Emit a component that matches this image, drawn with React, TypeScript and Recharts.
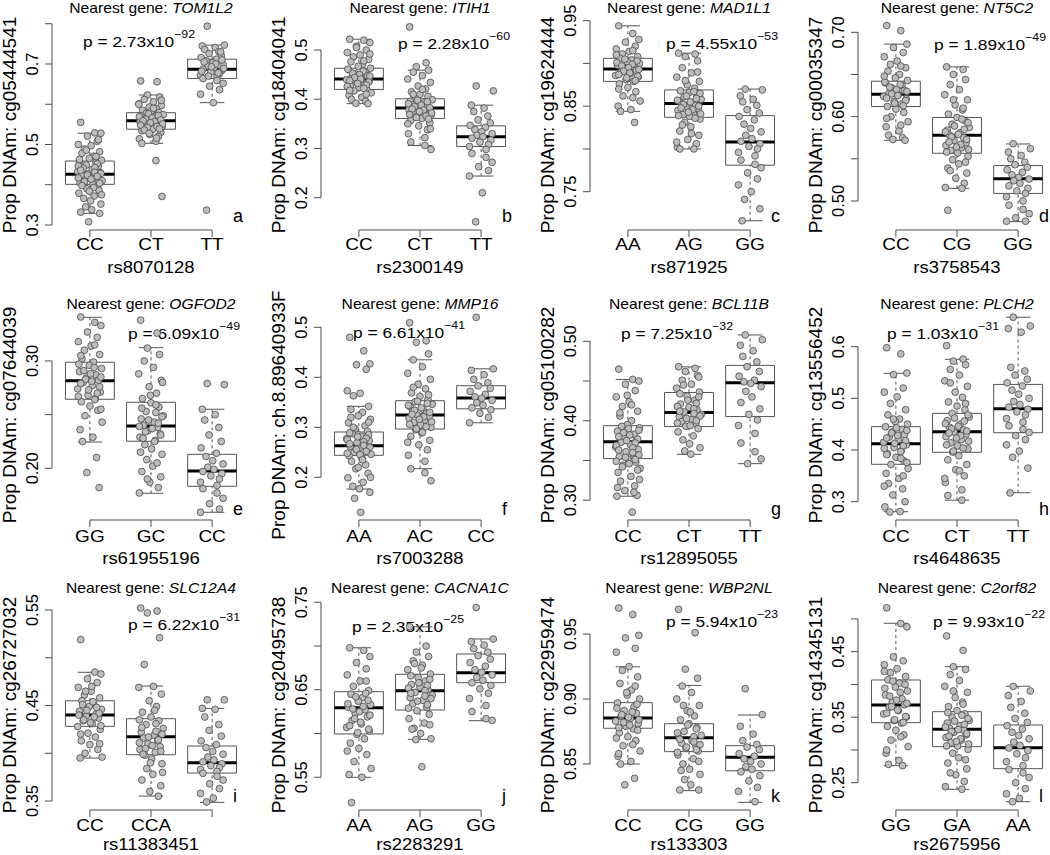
/**
 * Twelve mQTL boxplot panels (3 rows x 4 columns), R-style:
 * grey jittered points over a boxplot per genotype, thick black median,
 * dashed whiskers with short caps, a bracket x axis and a y axis that only
 * spans the first to the last tick.
 */
import React from "react";
import { ComposedChart, Scatter, XAxis, YAxis, ReferenceArea, ReferenceLine } from "recharts";

// ---------- data: box stats are [lower whisker, q1, median, q3, upper whisker] ----------

const TOM1L2_GENOTYPES = ["CC", "CT", "TT"];
const TOM1L2_BOXES = [
  [0.329, 0.401, 0.426, 0.459, 0.528],
  [0.503, 0.538, 0.559, 0.579, 0.623],
  [0.604, 0.664, 0.687, 0.712, 0.747],
];
const TOM1L2_POINTS = [
  [0.555, 0.529, 0.528, 0.521, 0.508, 0.5, 0.497, 0.489, 0.482, 0.478, 0.471, 0.466, 0.461, 0.458, 0.455, 0.449, 0.446, 0.441, 0.438, 0.433, 0.43, 0.427, 0.425, 0.423, 0.419, 0.416, 0.412, 0.41, 0.405, 0.402, 0.399, 0.395, 0.39, 0.386, 0.379, 0.372, 0.366, 0.36, 0.352, 0.345, 0.338, 0.332, 0.329, 0.308,
    0.452, 0.447, 0.443, 0.436, 0.431, 0.428, 0.424, 0.421, 0.417, 0.414, 0.408, 0.404, 0.398, 0.393, 0.384, 0.375, 0.463, 0.47, 0.486, 0.512],
  [0.658, 0.656, 0.623, 0.618, 0.612, 0.606, 0.601, 0.597, 0.593, 0.589, 0.585, 0.582, 0.579, 0.577, 0.574, 0.571, 0.568, 0.565, 0.562, 0.56, 0.558, 0.556, 0.553, 0.55, 0.547, 0.544, 0.541, 0.538, 0.534, 0.53, 0.525, 0.52, 0.514, 0.508, 0.503, 0.46, 0.371,
    0.576, 0.572, 0.569, 0.566, 0.563, 0.561, 0.559, 0.557, 0.554, 0.551, 0.548, 0.545, 0.542, 0.539, 0.536, 0.59, 0.6, 0.61, 0.528, 0.516],
  [0.794, 0.747, 0.745, 0.741, 0.736, 0.731, 0.726, 0.721, 0.716, 0.712, 0.708, 0.703, 0.699, 0.695, 0.69, 0.687, 0.684, 0.68, 0.676, 0.672, 0.668, 0.664, 0.659, 0.652, 0.645, 0.636, 0.625, 0.604, 0.337,
    0.71, 0.705, 0.7, 0.693, 0.689, 0.682, 0.678, 0.67, 0.73],
];

const ITIH1_GENOTYPES = ["CC", "CT", "TT"];
const ITIH1_BOXES = [
  [0.391, 0.42, 0.441, 0.463, 0.522],
  [0.306, 0.361, 0.382, 0.401, 0.459],
  [0.244, 0.304, 0.324, 0.346, 0.388],
];
const ITIH1_POINTS = [
  [0.522, 0.52, 0.515, 0.508, 0.5, 0.495, 0.49, 0.486, 0.481, 0.476, 0.471, 0.467, 0.463, 0.46, 0.456, 0.452, 0.448, 0.445, 0.442, 0.44, 0.437, 0.434, 0.43, 0.427, 0.424, 0.42, 0.417, 0.413, 0.408, 0.404, 0.4, 0.396, 0.392, 0.391,
    0.461, 0.457, 0.453, 0.45, 0.447, 0.444, 0.441, 0.438, 0.435, 0.432, 0.429, 0.426, 0.422, 0.418, 0.478, 0.492, 0.505, 0.41],
  [0.547, 0.474, 0.466, 0.459, 0.455, 0.448, 0.441, 0.434, 0.427, 0.421, 0.415, 0.41, 0.406, 0.402, 0.399, 0.396, 0.392, 0.389, 0.386, 0.384, 0.382, 0.379, 0.376, 0.373, 0.37, 0.367, 0.364, 0.361, 0.357, 0.352, 0.346, 0.338, 0.33, 0.322, 0.313, 0.306, 0.298,
    0.398, 0.395, 0.391, 0.388, 0.385, 0.383, 0.38, 0.378, 0.375, 0.372, 0.369, 0.366, 0.363, 0.36, 0.41, 0.42, 0.35, 0.34],
  [0.427, 0.417, 0.388, 0.382, 0.375, 0.366, 0.358, 0.352, 0.347, 0.343, 0.338, 0.334, 0.33, 0.327, 0.324, 0.321, 0.317, 0.313, 0.308, 0.304, 0.298, 0.29, 0.282, 0.272, 0.263, 0.255, 0.244, 0.21, 0.151],
];

const MAD1L1_GENOTYPES = ["AA", "AG", "GG"];
const MAD1L1_BOXES = [
  [0.844, 0.879, 0.8935, 0.906, 0.944],
  [0.8, 0.837, 0.853, 0.869, 0.912],
  [0.716, 0.781, 0.808, 0.839, 0.87],
];
const MAD1L1_POINTS = [
  [0.944, 0.935, 0.928, 0.925, 0.92, 0.917, 0.914, 0.911, 0.908, 0.906, 0.904, 0.902, 0.9, 0.898, 0.896, 0.894, 0.892, 0.89, 0.888, 0.886, 0.884, 0.881, 0.879, 0.876, 0.872, 0.867, 0.862, 0.856, 0.85, 0.846, 0.844, 0.831,
    0.905, 0.903, 0.901, 0.899, 0.897, 0.895, 0.893, 0.891, 0.889, 0.887, 0.885, 0.883, 0.88, 0.91, 0.915, 0.87, 0.86],
  [0.912, 0.911, 0.908, 0.903, 0.895, 0.889, 0.884, 0.879, 0.875, 0.871, 0.868, 0.866, 0.863, 0.861, 0.858, 0.856, 0.854, 0.853, 0.851, 0.849, 0.847, 0.845, 0.842, 0.84, 0.838, 0.835, 0.831, 0.826, 0.821, 0.816, 0.811, 0.806, 0.802, 0.8, 0.8,
    0.867, 0.865, 0.862, 0.859, 0.857, 0.855, 0.852, 0.85, 0.848, 0.846, 0.843, 0.841, 0.839, 0.836, 0.88, 0.89, 0.828, 0.818, 0.808],
  [0.87, 0.869, 0.862, 0.858, 0.855, 0.851, 0.846, 0.842, 0.838, 0.834, 0.829, 0.824, 0.82, 0.816, 0.812, 0.809, 0.806, 0.803, 0.8, 0.796, 0.792, 0.787, 0.782, 0.778, 0.772, 0.765, 0.758, 0.75, 0.741, 0.73, 0.716],
];

const NT5C2_GENOTYPES = ["CC", "CG", "GG"];
const NT5C2_BOXES = [
  [0.572, 0.612, 0.6265, 0.642, 0.686],
  [0.515, 0.5566, 0.578, 0.599, 0.659],
  [0.4755, 0.509, 0.5264, 0.542, 0.5676],
];
const NT5C2_POINTS = [
  [0.708, 0.702, 0.686, 0.682, 0.676, 0.671, 0.666, 0.662, 0.658, 0.654, 0.65, 0.646, 0.643, 0.64, 0.637, 0.634, 0.631, 0.628, 0.626, 0.624, 0.621, 0.618, 0.615, 0.612, 0.609, 0.605, 0.6, 0.594, 0.588, 0.583, 0.578, 0.575, 0.573, 0.572,
    0.641, 0.638, 0.635, 0.632, 0.63, 0.627, 0.625, 0.622, 0.619, 0.616, 0.613, 0.648, 0.66, 0.598, 0.59],
  [0.659, 0.656, 0.65, 0.644, 0.638, 0.632, 0.626, 0.62, 0.614, 0.608, 0.603, 0.599, 0.595, 0.591, 0.587, 0.584, 0.581, 0.578, 0.575, 0.572, 0.569, 0.566, 0.563, 0.56, 0.557, 0.553, 0.549, 0.544, 0.539, 0.533, 0.527, 0.521, 0.516, 0.515, 0.489,
    0.597, 0.593, 0.589, 0.585, 0.582, 0.579, 0.576, 0.573, 0.57, 0.567, 0.564, 0.561, 0.558, 0.61, 0.62, 0.546, 0.536],
  [0.568, 0.562, 0.558, 0.554, 0.55, 0.546, 0.543, 0.54, 0.537, 0.534, 0.531, 0.528, 0.526, 0.524, 0.521, 0.518, 0.515, 0.512, 0.509, 0.505, 0.5, 0.495, 0.49, 0.485, 0.48, 0.476, 0.476],
];

const OGFOD2_GENOTYPES = ["GG", "GC", "CC"];
const OGFOD2_BOXES = [
  [0.2245, 0.2643, 0.2816, 0.2988, 0.3407],
  [0.1767, 0.2252, 0.2394, 0.2615, 0.3124],
  [0.159, 0.1832, 0.1975, 0.213, 0.255],
];
const OGFOD2_POINTS = [
  [0.341, 0.336, 0.333, 0.327, 0.322, 0.318, 0.314, 0.31, 0.306, 0.302, 0.299, 0.296, 0.293, 0.29, 0.287, 0.284, 0.282, 0.28, 0.277, 0.274, 0.271, 0.268, 0.265, 0.262, 0.258, 0.254, 0.249, 0.243, 0.236, 0.229, 0.225, 0.21, 0.196, 0.182,
    0.297, 0.294, 0.291, 0.288, 0.285, 0.283, 0.281, 0.279, 0.276, 0.273, 0.27, 0.267, 0.264, 0.305, 0.315, 0.255],
  [0.338, 0.326, 0.312, 0.306, 0.3, 0.294, 0.288, 0.282, 0.276, 0.27, 0.265, 0.261, 0.257, 0.253, 0.249, 0.246, 0.243, 0.24, 0.238, 0.235, 0.232, 0.229, 0.226, 0.222, 0.218, 0.213, 0.208, 0.202, 0.197, 0.192, 0.187, 0.182, 0.177,
    0.259, 0.256, 0.252, 0.248, 0.245, 0.242, 0.239, 0.237, 0.234, 0.231, 0.228, 0.225, 0.268, 0.28, 0.215, 0.205, 0.19],
  [0.279, 0.278, 0.255, 0.25, 0.245, 0.238, 0.231, 0.225, 0.219, 0.214, 0.211, 0.207, 0.204, 0.201, 0.199, 0.197, 0.195, 0.193, 0.19, 0.187, 0.184, 0.181, 0.177, 0.172, 0.167, 0.162, 0.159],
];

const MMP16_GENOTYPES = ["AA", "AC", "CC"];
const MMP16_BOXES = [
  [0.1766, 0.244, 0.2632, 0.2906, 0.342],
  [0.2172, 0.2966, 0.3246, 0.3532, 0.435],
  [0.309, 0.337, 0.3586, 0.3832, 0.417],
];
const MMP16_POINTS = [
  [0.48, 0.453, 0.427, 0.425, 0.416, 0.373, 0.368, 0.363, 0.342, 0.336, 0.33, 0.323, 0.316, 0.309, 0.303, 0.297, 0.292, 0.287, 0.282, 0.277, 0.273, 0.269, 0.265, 0.262, 0.258, 0.254, 0.25, 0.246, 0.243, 0.238, 0.232, 0.225, 0.217, 0.208, 0.199, 0.19, 0.182, 0.177, 0.17, 0.158, 0.13,
    0.289, 0.285, 0.281, 0.278, 0.275, 0.271, 0.267, 0.264, 0.26, 0.256, 0.252, 0.248, 0.245, 0.3, 0.31, 0.32, 0.235, 0.22, 0.2],
  [0.509, 0.473, 0.47, 0.447, 0.435, 0.421, 0.408, 0.396, 0.386, 0.377, 0.369, 0.362, 0.356, 0.351, 0.346, 0.341, 0.336, 0.332, 0.328, 0.325, 0.322, 0.318, 0.314, 0.31, 0.305, 0.3, 0.295, 0.289, 0.282, 0.274, 0.265, 0.255, 0.244, 0.232, 0.217, 0.209, 0.193,
    0.352, 0.348, 0.344, 0.339, 0.334, 0.33, 0.326, 0.321, 0.316, 0.311, 0.306, 0.301, 0.297, 0.365, 0.38, 0.29, 0.27],
  [0.52, 0.417, 0.414, 0.405, 0.396, 0.389, 0.383, 0.378, 0.372, 0.366, 0.361, 0.358, 0.354, 0.349, 0.344, 0.339, 0.335, 0.328, 0.32, 0.309],
];

const BCL11B_GENOTYPES = ["CC", "CT", "TT"];
const BCL11B_BOXES = [
  [0.305, 0.3524, 0.3736, 0.3938, 0.452],
  [0.3578, 0.3927, 0.4103, 0.4356, 0.4678],
  [0.346, 0.4053, 0.4478, 0.4697, 0.508],
];
const BCL11B_POINTS = [
  [0.465, 0.452, 0.45, 0.446, 0.438, 0.43, 0.424, 0.418, 0.412, 0.406, 0.4, 0.395, 0.391, 0.387, 0.383, 0.379, 0.376, 0.373, 0.37, 0.367, 0.364, 0.361, 0.358, 0.355, 0.352, 0.348, 0.344, 0.34, 0.335, 0.33, 0.324, 0.318, 0.312, 0.306, 0.305, 0.285,
    0.393, 0.39, 0.388, 0.385, 0.382, 0.38, 0.377, 0.375, 0.372, 0.369, 0.366, 0.363, 0.36, 0.357, 0.354, 0.351, 0.349, 0.346, 0.342, 0.338, 0.41, 0.42, 0.432, 0.326, 0.316, 0.31],
  [0.468, 0.466, 0.462, 0.457, 0.451, 0.446, 0.441, 0.436, 0.431, 0.426, 0.421, 0.417, 0.414, 0.411, 0.408, 0.405, 0.402, 0.399, 0.396, 0.393, 0.39, 0.386, 0.381, 0.376, 0.371, 0.366, 0.362, 0.358,
    0.434, 0.43, 0.426, 0.422, 0.418, 0.415, 0.412, 0.409, 0.406, 0.403, 0.4, 0.397, 0.394, 0.445, 0.455],
  [0.508, 0.502, 0.495, 0.488, 0.481, 0.474, 0.468, 0.462, 0.456, 0.451, 0.449, 0.447, 0.443, 0.437, 0.43, 0.423, 0.415, 0.408, 0.401, 0.394, 0.384, 0.372, 0.361, 0.352, 0.346],
];

const PLCH2_GENOTYPES = ["CC", "CT", "TT"];
const PLCH2_BOXES = [
  [0.2806, 0.3724, 0.4123, 0.4452, 0.5485],
  [0.303, 0.3956, 0.4355, 0.471, 0.5756],
  [0.3174, 0.4335, 0.48, 0.527, 0.657],
];
const PLCH2_POINTS = [
  [0.598, 0.586, 0.549, 0.546, 0.52, 0.512, 0.503, 0.49, 0.478, 0.468, 0.46, 0.455, 0.45, 0.445, 0.44, 0.435, 0.43, 0.425, 0.42, 0.415, 0.41, 0.405, 0.399, 0.393, 0.386, 0.379, 0.372, 0.364, 0.355, 0.345, 0.335, 0.325, 0.313, 0.3, 0.29, 0.281, 0.28,
    0.443, 0.438, 0.433, 0.428, 0.423, 0.418, 0.413, 0.408, 0.403, 0.397, 0.391, 0.384, 0.376, 0.46, 0.35, 0.33],
  [0.602, 0.576, 0.572, 0.565, 0.556, 0.545, 0.534, 0.523, 0.512, 0.502, 0.493, 0.485, 0.478, 0.471, 0.464, 0.457, 0.45, 0.444, 0.439, 0.435, 0.431, 0.426, 0.42, 0.414, 0.408, 0.402, 0.396, 0.389, 0.381, 0.372, 0.362, 0.35, 0.337, 0.323, 0.312, 0.303,
    0.468, 0.462, 0.456, 0.451, 0.446, 0.441, 0.437, 0.433, 0.428, 0.423, 0.417, 0.41, 0.404, 0.398, 0.49, 0.53, 0.36, 0.345],
  [0.657, 0.64, 0.635, 0.628, 0.56, 0.553, 0.545, 0.537, 0.53, 0.524, 0.516, 0.508, 0.5, 0.494, 0.488, 0.483, 0.479, 0.474, 0.468, 0.461, 0.454, 0.447, 0.44, 0.434, 0.428, 0.42, 0.41, 0.398, 0.386, 0.365, 0.317],
];

// third label is dropped in the original (overlap)
const SLC12A4_GENOTYPES = ["CC", "CCA", ""];
const SLC12A4_BOXES = [
  [0.395, 0.4282, 0.44, 0.455, 0.4848],
  [0.3552, 0.3985, 0.4173, 0.4362, 0.4704],
  [0.3486, 0.3793, 0.3901, 0.4076, 0.447],
];
const SLC12A4_POINTS = [
  [0.519, 0.485, 0.483, 0.478, 0.474, 0.469, 0.465, 0.461, 0.458, 0.455, 0.452, 0.449, 0.446, 0.444, 0.441, 0.439, 0.437, 0.434, 0.431, 0.428, 0.425, 0.421, 0.417, 0.413, 0.409, 0.404, 0.4, 0.396, 0.395,
    0.454, 0.451, 0.448, 0.445, 0.442, 0.44, 0.438, 0.435, 0.432, 0.429, 0.465, 0.47, 0.42, 0.41],
  [0.552, 0.549, 0.547, 0.521, 0.493, 0.47, 0.469, 0.462, 0.455, 0.449, 0.443, 0.438, 0.434, 0.43, 0.426, 0.422, 0.419, 0.416, 0.413, 0.41, 0.407, 0.404, 0.401, 0.398, 0.394, 0.389, 0.384, 0.378, 0.372, 0.366, 0.36, 0.355,
    0.435, 0.431, 0.427, 0.423, 0.42, 0.417, 0.414, 0.411, 0.408, 0.405, 0.402, 0.399, 0.445, 0.39, 0.38],
  [0.456, 0.456, 0.447, 0.446, 0.438, 0.43, 0.424, 0.418, 0.413, 0.409, 0.406, 0.402, 0.399, 0.396, 0.393, 0.391, 0.389, 0.387, 0.385, 0.383, 0.381, 0.379, 0.376, 0.372, 0.368, 0.363, 0.358, 0.353, 0.349],
];

const CACNA1C_GENOTYPES = ["AA", "AG", "GG"];
const CACNA1C_BOXES = [
  [0.55, 0.5995, 0.6296, 0.6478, 0.698],
  [0.5934, 0.6269, 0.649, 0.6677, 0.722],
  [0.6147, 0.6581, 0.6695, 0.6909, 0.708],
];
const CACNA1C_POINTS = [
  [0.698, 0.695, 0.688, 0.681, 0.674, 0.667, 0.66, 0.654, 0.649, 0.645, 0.641, 0.637, 0.633, 0.63, 0.627, 0.623, 0.619, 0.615, 0.611, 0.607, 0.603, 0.599, 0.594, 0.589, 0.583, 0.576, 0.568, 0.56, 0.553, 0.55, 0.521,
    0.646, 0.642, 0.638, 0.634, 0.631, 0.628, 0.625, 0.621, 0.617, 0.613, 0.609, 0.605, 0.601, 0.66, 0.58],
  [0.722, 0.7, 0.693, 0.688, 0.683, 0.678, 0.673, 0.668, 0.664, 0.66, 0.656, 0.653, 0.65, 0.647, 0.644, 0.641, 0.638, 0.634, 0.63, 0.626, 0.622, 0.617, 0.612, 0.606, 0.6, 0.594, 0.593, 0.562,
    0.666, 0.662, 0.658, 0.655, 0.652, 0.649, 0.646, 0.643, 0.64, 0.637, 0.633, 0.629, 0.675, 0.68, 0.61, 0.605],
  [0.744, 0.708, 0.705, 0.701, 0.697, 0.693, 0.689, 0.685, 0.681, 0.677, 0.673, 0.67, 0.667, 0.664, 0.661, 0.658, 0.655, 0.651, 0.646, 0.64, 0.632, 0.625, 0.617, 0.615],
];

const WBP2NL_GENOTYPES = ["CC", "CG", "GG"];
const WBP2NL_BOXES = [
  [0.85, 0.8775, 0.8854, 0.8972, 0.9248],
  [0.8295, 0.8595, 0.8702, 0.881, 0.9105],
  [0.8205, 0.8448, 0.8551, 0.8641, 0.8877],
];
const WBP2NL_POINTS = [
  [0.97, 0.965, 0.949, 0.947, 0.939, 0.936, 0.925, 0.922, 0.917, 0.912, 0.907, 0.903, 0.9, 0.897, 0.894, 0.891, 0.889, 0.887, 0.885, 0.883, 0.881, 0.879, 0.877, 0.874, 0.871, 0.868, 0.864, 0.86, 0.856, 0.852, 0.85, 0.839, 0.834,
    0.896, 0.893, 0.89, 0.888, 0.886, 0.884, 0.882, 0.88, 0.878, 0.876, 0.905, 0.91, 0.87, 0.865, 0.858],
  [0.969, 0.951, 0.923, 0.916, 0.91, 0.905, 0.9, 0.895, 0.891, 0.887, 0.884, 0.881, 0.878, 0.875, 0.872, 0.87, 0.868, 0.866, 0.864, 0.862, 0.86, 0.857, 0.854, 0.85, 0.846, 0.842, 0.838, 0.834, 0.83, 0.83,
    0.88, 0.877, 0.874, 0.871, 0.869, 0.867, 0.865, 0.863, 0.861, 0.859, 0.89, 0.895, 0.852, 0.845],
  [0.908, 0.888, 0.879, 0.873, 0.868, 0.865, 0.863, 0.861, 0.858, 0.856, 0.854, 0.852, 0.85, 0.848, 0.846, 0.844, 0.841, 0.837, 0.832, 0.829, 0.821],
];

const C2ORF82_GENOTYPES = ["GG", "GA", "AA"];
const C2ORF82_BOXES = [
  [0.276, 0.3416, 0.3686, 0.4068, 0.4934],
  [0.2399, 0.305, 0.3315, 0.3584, 0.4271],
  [0.221, 0.2714, 0.3034, 0.3381, 0.3972],
];
const C2ORF82_POINTS = [
  [0.517, 0.493, 0.488, 0.442, 0.436, 0.43, 0.424, 0.418, 0.412, 0.407, 0.402, 0.396, 0.39, 0.384, 0.378, 0.373, 0.369, 0.365, 0.36, 0.355, 0.35, 0.345, 0.341, 0.336, 0.33, 0.323, 0.315, 0.305, 0.295, 0.284, 0.278, 0.276,
    0.405, 0.4, 0.394, 0.388, 0.382, 0.376, 0.371, 0.366, 0.361, 0.356, 0.351, 0.346, 0.342, 0.42, 0.32, 0.3],
  [0.474, 0.452, 0.427, 0.423, 0.415, 0.406, 0.397, 0.388, 0.38, 0.373, 0.366, 0.36, 0.355, 0.35, 0.345, 0.341, 0.337, 0.333, 0.33, 0.327, 0.323, 0.319, 0.315, 0.311, 0.306, 0.301, 0.295, 0.288, 0.28, 0.271, 0.262, 0.252, 0.244, 0.24,
    0.357, 0.353, 0.348, 0.344, 0.339, 0.335, 0.331, 0.328, 0.325, 0.321, 0.317, 0.313, 0.309, 0.306, 0.37, 0.39, 0.285, 0.265],
  [0.397, 0.39, 0.383, 0.374, 0.365, 0.356, 0.348, 0.342, 0.337, 0.332, 0.327, 0.322, 0.317, 0.312, 0.307, 0.303, 0.299, 0.294, 0.288, 0.282, 0.276, 0.27, 0.265, 0.258, 0.25, 0.241, 0.233, 0.226, 0.221],
];

// ---------- layout ----------

const FONT = '"Liberation Sans", Arial, Helvetica, sans-serif';
const SX = 1.12; // the source image is a bit wider than tall
const CHART_W = 268;
const CHART_H = 290;
const AXIS_W = 52;
const PLOT_TOP = 20;
const PLOT_BOTTOM = 230;
const X_AXIS_H = 40;
const COL_LEFTS = [52, 321, 590, 858];
const ROWS = [
  { top: 0, title: 12.5, tick: 250, xlab: 272.5, letter: 222 },
  { top: 290, title: 18.5, tick: 251.5, xlab: 274, letter: 225 },
  { top: 580, title: 13.3, tick: 251, xlab: 270, letter: 222 },
];
// jitter offsets (x, in group units) reused cyclically
const JITTER = [-0.15, 0.08, 0.18, -0.04, 0.12, -0.19, 0.02, -0.09, 0.16, -0.13, 0.06, -0.01, 0.19, -0.17, 0.1, -0.06, 0.14, -0.11, 0.04, -0.2, 0.17, -0.03, 0.09, -0.14, 0.0, 0.13, -0.08, 0.2, -0.16, 0.05, -0.12, 0.11, -0.05, 0.15, -0.18, 0.07, -0.1, 0.01, 0.18, -0.07, 0.03, -0.15, 0.16, -0.02, 0.12, -0.19, 0.08];

type PanelSpec = {
  gene: string;
  probe: string;
  snp: string;
  genotypes: string[];
  boxes: number[][];
  points: number[][];
  p: string;
  pExp: string;
  pAt: [number, number];
  letter: string;
  domain: [number, number];
  ticks: number[];
  labeled: number[];
  digits: number;
};

const PANELS: PanelSpec[] = [
  { gene: "TOM1L2", probe: "cg05444541", snp: "rs8070128", genotypes: TOM1L2_GENOTYPES, boxes: TOM1L2_BOXES, points: TOM1L2_POINTS, p: "2.73", pExp: "92", pAt: [83, 47], letter: "a", domain: [0.2876, 0.8093], ticks: [0.3, 0.4, 0.5, 0.6, 0.7, 0.8], labeled: [0.3, 0.5, 0.7], digits: 1 },
  { gene: "ITIH1", probe: "cg18404041", snp: "rs2300149", genotypes: ITIH1_GENOTYPES, boxes: ITIH1_BOXES, points: ITIH1_POINTS, p: "2.28", pExp: "60", pAt: [398, 49], letter: "b", domain: [0.1344, 0.561], ticks: [0.2, 0.3, 0.4, 0.5], labeled: [0.2, 0.3, 0.4, 0.5], digits: 1 },
  { gene: "MAD1L1", probe: "cg19624444", snp: "rs871925", genotypes: MAD1L1_GENOTYPES, boxes: MAD1L1_BOXES, points: MAD1L1_POINTS, p: "4.55", pExp: "53", pAt: [666, 48.5], letter: "c", domain: [0.7052, 0.9508], ticks: [0.75, 0.8, 0.85, 0.9, 0.95], labeled: [0.75, 0.85, 0.95], digits: 2 },
  { gene: "NT5C2", probe: "cg00035347", snp: "rs3758543", genotypes: NT5C2_GENOTYPES, boxes: NT5C2_BOXES, points: NT5C2_POINTS, p: "1.89", pExp: "49", pAt: [934, 49.5], letter: "d", domain: [0.4656, 0.7146], ticks: [0.5, 0.55, 0.6, 0.65, 0.7], labeled: [0.5, 0.6, 0.7], digits: 2 },
  { gene: "OGFOD2", probe: "cg07644039", snp: "rs61955196", genotypes: OGFOD2_GENOTYPES, boxes: OGFOD2_BOXES, points: OGFOD2_POINTS, p: "6.09", pExp: "49", pAt: [128, 338.5], letter: "e", domain: [0.1518, 0.3475], ticks: [0.2, 0.25, 0.3], labeled: [0.2, 0.3], digits: 2 },
  { gene: "MMP16", probe: "ch.8.89640933F", snp: "rs7003288", genotypes: MMP16_GENOTYPES, boxes: MMP16_BOXES, points: MMP16_POINTS, p: "6.61", pExp: "41", pAt: [353, 338], letter: "f", domain: [0.1146, 0.5346], ticks: [0.2, 0.3, 0.4, 0.5], labeled: [0.2, 0.3, 0.4, 0.5], digits: 1 },
  { gene: "BCL11B", probe: "cg05100282", snp: "rs12895055", genotypes: BCL11B_GENOTYPES, boxes: BCL11B_BOXES, points: BCL11B_POINTS, p: "7.25", pExp: "32", pAt: [621, 339], letter: "g", domain: [0.2751, 0.5394], ticks: [0.3, 0.35, 0.4, 0.45, 0.5], labeled: [0.3, 0.4, 0.5], digits: 2 },
  { gene: "PLCH2", probe: "cg13556452", snp: "rs4648635", genotypes: PLCH2_GENOTYPES, boxes: PLCH2_BOXES, points: PLCH2_POINTS, p: "1.03", pExp: "31", pAt: [887, 338.5], letter: "h", domain: [0.2646, 0.671], ticks: [0.3, 0.4, 0.5, 0.6], labeled: [0.3, 0.4, 0.5, 0.6], digits: 1 },
  { gene: "SLC12A4", probe: "cg26727032", snp: "rs11383451", genotypes: SLC12A4_GENOTYPES, boxes: SLC12A4_BOXES, points: SLC12A4_POINTS, p: "6.22", pExp: "31", pAt: [128, 630], letter: "i", domain: [0.3406, 0.5605], ticks: [0.35, 0.4, 0.45, 0.5, 0.55], labeled: [0.35, 0.45, 0.55], digits: 2 },
  { gene: "CACNA1C", probe: "cg20495738", snp: "rs2283291", genotypes: CACNA1C_GENOTYPES, boxes: CACNA1C_BOXES, points: CACNA1C_POINTS, p: "2.35", pExp: "25", pAt: [352, 631.5], letter: "j", domain: [0.5126, 0.7526], ticks: [0.55, 0.6, 0.65, 0.7, 0.75], labeled: [0.55, 0.65, 0.75], digits: 2 },
  { gene: "WBP2NL", probe: "cg22959474", snp: "rs133303", genotypes: WBP2NL_GENOTYPES, boxes: WBP2NL_BOXES, points: WBP2NL_POINTS, p: "5.94", pExp: "23", pAt: [666, 627], letter: "k", domain: [0.8146, 0.9762], ticks: [0.85, 0.9, 0.95], labeled: [0.85, 0.9, 0.95], digits: 2 },
  { gene: "C2orf82", probe: "cg14345131", snp: "rs2675956", genotypes: C2ORF82_GENOTYPES, boxes: C2ORF82_BOXES, points: C2ORF82_POINTS, p: "9.93", pExp: "22", pAt: [933, 627], letter: "l", domain: [0.2083, 0.5289], ticks: [0.25, 0.3, 0.35, 0.4, 0.45, 0.5], labeled: [0.25, 0.35, 0.45], digits: 2 },
];

const BOX_STROKE = "#555555";
const AXIS_STROKE = "#4d4d4d";

function Panel({ spec, index }: { spec: PanelSpec; index: number }) {
  const row = ROWS[Math.floor(index / 4)];
  const plotLeft = COL_LEFTS[index % 4];
  const chartLeft = plotLeft - AXIS_W;
  const plotW = CHART_W - AXIS_W - 18;
  const midX = AXIS_W + plotW / 2;

  const data = spec.points.flatMap((vals, g) =>
    vals.map((v, i) => ({ x: g + 1 + JITTER[(i + g * 13) % JITTER.length], y: v }))
  );
  const [yMin] = spec.domain;
  const firstTick = spec.ticks[0];
  const lastTick = spec.ticks[spec.ticks.length - 1];

  const renderYTick = (props: any) => {
    const { x, y, payload } = props;
    const v = payload.value as number;
    if (!spec.labeled.some((l) => Math.abs(l - v) < 1e-9)) return <g />;
    return (
      <text
        x={x - 5}
        y={y}
        transform={`rotate(-90, ${x - 5}, ${y})`}
        textAnchor="middle"
        fontSize={16.5}
        fontFamily={FONT}
        fill="#000"
      >
        {v.toFixed(spec.digits)}
      </text>
    );
  };

  const renderXTick = (props: any) => {
    const { x, payload } = props;
    const label = spec.genotypes[(payload.value as number) - 1] ?? "";
    return (
      <text
        transform={`translate(${x}, ${row.tick}) scale(${SX}, 1)`}
        textAnchor="middle"
        fontSize={17}
        fontFamily={FONT}
        fill="#000"
      >
        {label}
      </text>
    );
  };

  return (
    <div style={{ position: "absolute", left: chartLeft, top: row.top, width: CHART_W, height: CHART_H }}>
      {/* annotations sit underneath the chart so points draw over them, as in R */}
      <svg width={CHART_W} height={CHART_H} style={{ position: "absolute", left: 0, top: 0 }}>
        <text
          transform={`translate(${midX}, ${row.title}) scale(${SX}, 1)`}
          textAnchor="middle"
          fontSize={14}
          fontFamily={FONT}
          fill="#000"
        >
          Nearest gene: <tspan fontStyle="italic">{spec.gene}</tspan>
        </text>
        <text
          transform={`translate(${spec.pAt[0] - chartLeft}, ${spec.pAt[1] - row.top}) scale(${SX}, 1)`}
          fontSize={15.5}
          fontFamily={FONT}
          fill="#000"
        >
          {`p = ${spec.p}x10`}
          <tspan dy={-9} fontSize={11}>{`\u2212${spec.pExp}`}</tspan>
        </text>
        <text
          x={AXIS_W + 181}
          y={row.letter}
          fontSize={18}
          fontFamily={FONT}
          fill="#000"
        >
          {spec.letter}
        </text>
        <text
          transform={`translate(${midX}, ${row.xlab}) scale(${SX}, 1)`}
          textAnchor="middle"
          fontSize={16.5}
          fontFamily={FONT}
          fill="#000"
        >
          {spec.snp}
        </text>
        <text
          transform={`translate(${AXIS_W - 36}, ${(PLOT_TOP + PLOT_BOTTOM) / 2}) rotate(-90)`}
          textAnchor="middle"
          fontSize={19}
          fontFamily={FONT}
          fill="#000"
        >
          {`Prop DNAm: ${spec.probe}`}
        </text>
      </svg>
      <div style={{ position: "absolute", left: 0, top: 0 }}>
        <ComposedChart
          width={CHART_W}
          height={CHART_H}
          margin={{ top: PLOT_TOP, right: 18, bottom: CHART_H - PLOT_BOTTOM - X_AXIS_H, left: 0 }}
        >
          <XAxis
            type="number"
            dataKey="x"
            domain={[0.38, 3.62]}
            allowDataOverflow
            ticks={[1, 2, 3]}
            interval={0}
            height={X_AXIS_H}
            axisLine={false}
            tickLine={{ stroke: AXIS_STROKE, strokeWidth: 1 }}
            tickSize={7}
            tickMargin={2}
            tick={renderXTick}
          />
          <YAxis
            type="number"
            dataKey="y"
            domain={spec.domain}
            allowDataOverflow
            ticks={spec.ticks}
            interval={0}
            width={AXIS_W}
            axisLine={false}
            tickLine={{ stroke: AXIS_STROKE, strokeWidth: 1 }}
            tickSize={7}
            tickMargin={2}
            tick={renderYTick}
          />
          {/* R style axes: y spans first..last tick, x is a bracket from group 1 to 3 */}
          <ReferenceLine
            segment={[{ x: 0.38, y: firstTick }, { x: 0.38, y: lastTick }]}
            stroke={AXIS_STROKE}
            strokeWidth={1}
            ifOverflow="visible"
          />
          <ReferenceLine
            segment={[{ x: 1, y: yMin }, { x: 3, y: yMin }]}
            stroke={AXIS_STROKE}
            strokeWidth={1}
            ifOverflow="visible"
          />
          {spec.boxes.map((b, g) => (
            <ReferenceArea
              key={`box-${g}`}
              x1={g + 1 - 0.4}
              x2={g + 1 + 0.4}
              y1={b[1]}
              y2={b[3]}
              fill="#ffffff"
              fillOpacity={0}
              stroke={BOX_STROKE}
              strokeWidth={1}
              ifOverflow="visible"
            />
          ))}
          {spec.boxes.map((b, g) => (
            <ReferenceLine
              key={`wu-${g}`}
              segment={[{ x: g + 1, y: b[3] }, { x: g + 1, y: b[4] }]}
              stroke={BOX_STROKE}
              strokeDasharray="3 3"
              ifOverflow="visible"
            />
          ))}
          {spec.boxes.map((b, g) => (
            <ReferenceLine
              key={`wl-${g}`}
              segment={[{ x: g + 1, y: b[0] }, { x: g + 1, y: b[1] }]}
              stroke={BOX_STROKE}
              strokeDasharray="3 3"
              ifOverflow="visible"
            />
          ))}
          {spec.boxes.map((b, g) => (
            <ReferenceLine
              key={`cu-${g}`}
              segment={[{ x: g + 1 - 0.2, y: b[4] }, { x: g + 1 + 0.2, y: b[4] }]}
              stroke={BOX_STROKE}
              ifOverflow="visible"
            />
          ))}
          {spec.boxes.map((b, g) => (
            <ReferenceLine
              key={`cl-${g}`}
              segment={[{ x: g + 1 - 0.2, y: b[0] }, { x: g + 1 + 0.2, y: b[0] }]}
              stroke={BOX_STROKE}
              ifOverflow="visible"
            />
          ))}
          <Scatter
            data={data}
            isAnimationActive={false}
            shape={(p: any) => (
              <circle cx={p.cx} cy={p.cy} r={3.4} fill="#bdbdbd" stroke="#4a4a4a" strokeWidth={0.8} />
            )}
          />
          {spec.boxes.map((b, g) => (
            <ReferenceLine
              key={`med-${g}`}
              segment={[{ x: g + 1 - 0.4, y: b[2] }, { x: g + 1 + 0.4, y: b[2] }]}
              stroke="#000000"
              strokeWidth={3}
              ifOverflow="visible"
            />
          ))}
        </ComposedChart>
      </div>
    </div>
  );
}

export default function App() {
  return (
    <div
      style={{
        position: "absolute",
        left: 0,
        top: 0,
        width: 1050,
        height: 855,
        overflow: "hidden",
        background: "#ffffff",
        fontFamily: FONT,
      }}
    >
      {PANELS.map((spec, i) => (
        <Panel key={spec.gene} spec={spec} index={i} />
      ))}
    </div>
  );
}
